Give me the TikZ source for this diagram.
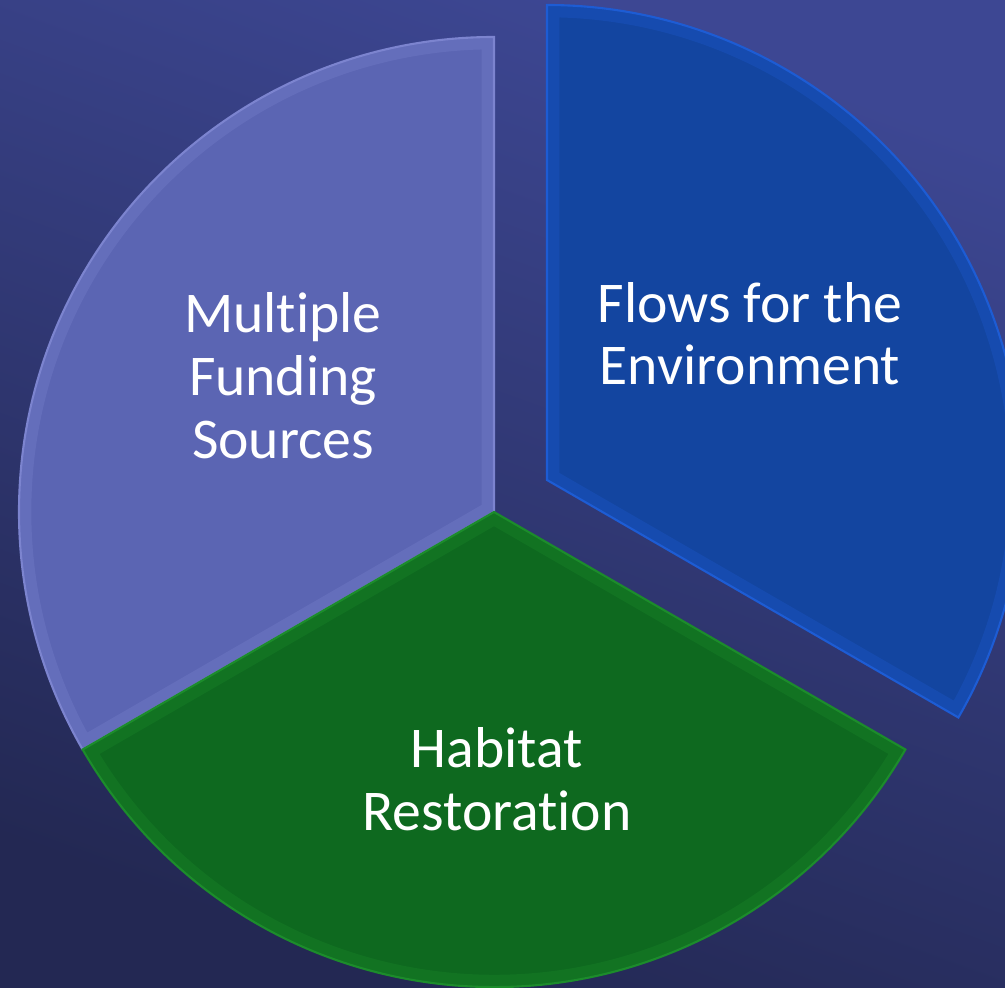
\documentclass[tikz,border=0pt]{standalone}
\usepackage{fontspec}
\setmainfont[Ligatures = NoCommon]{Carlito}
\usetikzlibrary{positioning,calc}
\definecolor{bgtop}{HTML}{3D4793}
\definecolor{bgbot}{HTML}{232853}
\definecolor{fundfill}{HTML}{5B65B3}
\definecolor{fundedge}{HTML}{7C84CF}
\definecolor{flowfill}{HTML}{1345A0}
\definecolor{flowedge}{HTML}{1D5CD4}
\definecolor{habfill}{HTML}{0E691F}
\definecolor{habedge}{HTML}{1C8C2B}
\begin{document}
\begin{tikzpicture}[
	bevel/.style = {line width = 7pt, opacity = 0.3},
	rim/.style = {line width = 0.6pt},
	every node/.style = {text = white, align = center, anchor = base, inner sep = 0pt,
		font = \fontsize{16.4}{17.9}\selectfont}
	]
	
	\useasboundingbox (0, 0) rectangle (10.05, 9.87);
	\clip (0, 0) rectangle (10.05, 9.87);
	\shade[top color = bgtop, bottom color = bgbot, shading angle = -20] (0, 0) rectangle (10.05, 9.87);
	
	\coordinate (ctr) at (4.94, 4.75);
	\coordinate (apex) at (5.47, 5.07);
	
	% multiple funding sources
	\begin{scope}
		\clip (ctr) -- ++(90:4.75) arc[start angle = 90, end angle = 210, radius = 4.75] -- cycle;
		\fill[fundfill] (ctr) -- ++(90:4.75) arc[start angle = 90, end angle = 210, radius = 4.75] -- cycle;
		\draw[bevel, fundedge] (ctr) -- ++(90:4.75) arc[start angle = 90, end angle = 210, radius = 4.75] -- cycle;
	\end{scope}
	\draw[rim, fundedge] (ctr) -- ++(90:4.75) arc[start angle = 90, end angle = 210, radius = 4.75] -- cycle;
	
	% habitat restoration
	\begin{scope}
		\clip (ctr) -- ++(210:4.75) arc[start angle = 210, end angle = 330, radius = 4.75] -- cycle;
		\fill[habfill] (ctr) -- ++(210:4.75) arc[start angle = 210, end angle = 330, radius = 4.75] -- cycle;
		\draw[bevel, habedge] (ctr) -- ++(210:4.75) arc[start angle = 210, end angle = 330, radius = 4.75] -- cycle;
	\end{scope}
	\draw[rim, habedge] (ctr) -- ++(210:4.75) arc[start angle = 210, end angle = 330, radius = 4.75] -- cycle;
	
	% flows for the environment (pulled out)
	\begin{scope}
		\clip (apex) -- ++(-30:4.75) arc[start angle = -30, end angle = 90, radius = 4.75] -- cycle;
		\fill[flowfill] (apex) -- ++(-30:4.75) arc[start angle = -30, end angle = 90, radius = 4.75] -- cycle;
		\draw[bevel, flowedge] (apex) -- ++(-30:4.75) arc[start angle = -30, end angle = 90, radius = 4.75] -- cycle;
	\end{scope}
	\draw[rim, flowedge] (apex) -- ++(-30:4.75) arc[start angle = -30, end angle = 90, radius = 4.75] -- cycle;
	
	\node (funding) at (2.83, 5.29) {Multiple\\Funding\\Sources};
	\node (flows) at (7.50, 6.02) {Flows for the\\Environment};
	\node (habitat) at (4.97, 1.57) {Habitat\\Restoration};

\end{tikzpicture}
\end{document}
